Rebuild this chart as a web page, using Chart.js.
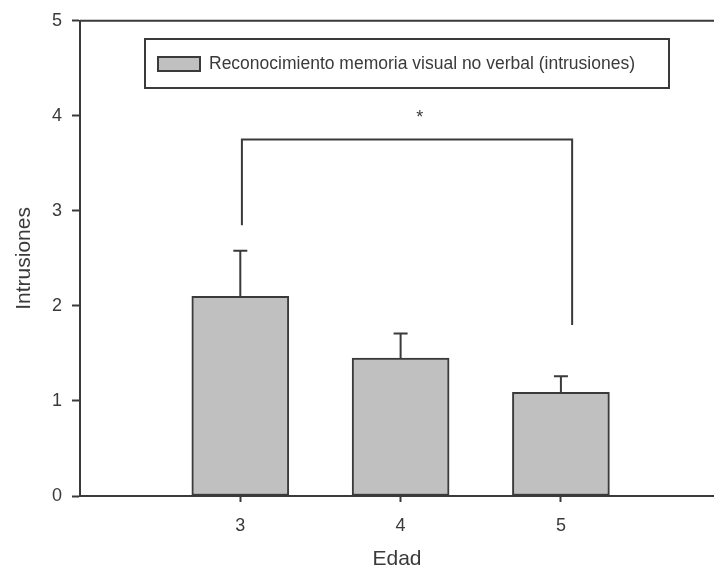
<!DOCTYPE html>
<html>
<head>
<meta charset="utf-8">
<script src="https://cdn.jsdelivr.net/npm/chart.js@4/dist/chart.umd.min.js"></script>
<style>
  html, body { margin: 0; padding: 0; background: #fff; }
  #wrap { width: 714px; height: 576px; }
</style>
</head>
<body>
<div id="wrap"><canvas id="chart"></canvas></div>
<script>
// Data
const ages = ['3', '4', '5'];
const agePositions = [3, 4, 5];
const means = [2.1, 1.45, 1.09];
const errors = [0.48, 0.26, 0.17];
const yTicks = [0, 1, 2, 3, 4, 5];
const legendLabel = 'Reconocimiento memoria visual no verbal (intrusiones)';
// significance bracket between age 3 and age 5
const bracketX = [3.01, 5.07];
const bracketTop = 3.75;
const bracketLegEnds = [2.85, 1.8];
const starPos = { x: 4.12, y: 3.98 };

const ink = '#3a3a3a';
const barFill = '#c0c0c0';
const fontFamily = '"Liberation Sans", Arial, sans-serif';

// error bars (upper only, with caps)
const errorBars = {
    id: 'errorBars',
    afterDatasetsDraw(chart) {
        const { ctx, scales: { x, y } } = chart;
        ctx.save();
        ctx.strokeStyle = ink;
        ctx.lineWidth = 2;
        agePositions.forEach((pos, i) => {
            const px = x.getPixelForValue(pos);
            const yBase = y.getPixelForValue(means[i]);
            const yTop = y.getPixelForValue(means[i] + errors[i]);
            ctx.beginPath();
            ctx.moveTo(px, yBase);
            ctx.lineTo(px, yTop);
            ctx.moveTo(px - 7, yTop);
            ctx.lineTo(px + 7, yTop);
            ctx.stroke();
        });
        ctx.restore();
    }
};

// top frame line, bracket, star and legend box
const decorations = {
    id: 'decorations',
    afterDraw(chart) {
        const { ctx, chartArea, scales: { x, y } } = chart;
        ctx.save();
        ctx.strokeStyle = ink;
        ctx.lineWidth = 2;

        // top frame
        ctx.beginPath();
        ctx.moveTo(chartArea.left, y.getPixelForValue(5));
        ctx.lineTo(chartArea.right, y.getPixelForValue(5));
        ctx.stroke();

        // bracket
        const xl = x.getPixelForValue(bracketX[0]);
        const xr = x.getPixelForValue(bracketX[1]);
        const yt = y.getPixelForValue(bracketTop);
        ctx.beginPath();
        ctx.moveTo(xl, y.getPixelForValue(bracketLegEnds[0]));
        ctx.lineTo(xl, yt);
        ctx.lineTo(xr, yt);
        ctx.lineTo(xr, y.getPixelForValue(bracketLegEnds[1]));
        ctx.stroke();

        ctx.fillStyle = ink;
        ctx.font = '18px ' + fontFamily;
        ctx.textAlign = 'center';
        ctx.textBaseline = 'middle';
        ctx.fillText('*', x.getPixelForValue(starPos.x), y.getPixelForValue(starPos.y));

        // legend box
        ctx.lineWidth = 2;
        ctx.strokeRect(145, 39, 524, 49);
        ctx.fillStyle = barFill;
        ctx.fillRect(158, 57, 42, 14);
        ctx.strokeRect(158, 57, 42, 14);
        ctx.fillStyle = ink;
        ctx.font = '17.5px ' + fontFamily;
        ctx.textAlign = 'left';
        ctx.fillText(legendLabel, 209, 64);
        ctx.restore();
    }
};

new Chart(document.getElementById('chart'), {
    type: 'bar',
    data: {
        datasets: [{
            label: legendLabel,
            data: agePositions.map((pos, i) => ({ x: pos, y: means[i] })),
            backgroundColor: barFill,
            borderColor: ink,
            borderWidth: 2,
            borderSkipped: false,
            barThickness: 97
        }]
    },
    options: {
        responsive: true,
        maintainAspectRatio: false,
        animation: false,
        layout: { padding: { top: 17, right: 0, left: 0, bottom: 0 } },
        plugins: {
            legend: { display: false },
            tooltip: { enabled: false }
        },
        scales: {
            x: {
                type: 'linear',
                min: 2,
                max: 5.955,
                offset: false,
                afterBuildTicks: (scale) => {
                    scale.ticks = agePositions.map(v => ({ value: v }));
                },
                afterFit: (scale) => { scale.height = 80; },
                ticks: {
                    color: ink,
                    font: { family: fontFamily, size: 18 },
                    padding: 13,
                    callback: (value) => ages[agePositions.indexOf(value)]
                },
                grid: {
                    offset: false,
                    drawOnChartArea: false,
                    tickLength: 6,
                    tickColor: ink,
                    tickWidth: 2
                },
                border: { color: ink, width: 2 },
                title: {
                    display: true,
                    text: 'Edad',
                    color: ink,
                    font: { family: fontFamily, size: 21 },
                    padding: { top: 12 }
                }
            },
            y: {
                min: 0,
                max: 5,
                afterBuildTicks: (scale) => {
                    scale.ticks = yTicks.map(v => ({ value: v }));
                },
                afterFit: (scale) => { scale.width = 80; },
                ticks: {
                    color: ink,
                    font: { family: fontFamily, size: 18 },
                    padding: 10
                },
                grid: {
                    drawOnChartArea: false,
                    tickLength: 8,
                    tickColor: ink,
                    tickWidth: 2
                },
                border: { color: ink, width: 2 },
                title: {
                    display: true,
                    text: 'Intrusiones',
                    color: ink,
                    font: { family: fontFamily, size: 21 },
                    padding: { top: 12, bottom: 0 }
                }
            }
        }
    },
    plugins: [errorBars, decorations]
});
</script>
</body>
</html>
